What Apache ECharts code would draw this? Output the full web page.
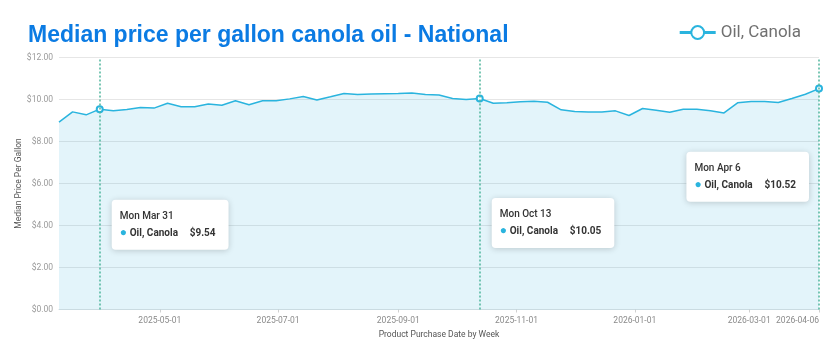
<!DOCTYPE html>
<html>
<head>
<meta charset="utf-8">
<script src="https://cdn.jsdelivr.net/npm/echarts@6/dist/echarts.min.js"></script>
<style>
html,body{margin:0;padding:0;background:#fff;}
#chart{width:826px;height:346px;}
</style>
</head>
<body>
<div id="chart"></div>
<script>
var weeks = ['2025-03-10','2025-03-17','2025-03-24','2025-03-31','2025-04-07','2025-04-14','2025-04-21','2025-04-28',
'2025-05-05','2025-05-12','2025-05-19','2025-05-26','2025-06-02','2025-06-09','2025-06-16','2025-06-23','2025-06-30',
'2025-07-07','2025-07-14','2025-07-21','2025-07-28','2025-08-04','2025-08-11','2025-08-18','2025-08-25',
'2025-09-01','2025-09-08','2025-09-15','2025-09-22','2025-09-29','2025-10-06','2025-10-13','2025-10-20','2025-10-27',
'2025-11-03','2025-11-10','2025-11-17','2025-11-24','2025-12-01','2025-12-08','2025-12-15','2025-12-22','2025-12-29',
'2026-01-05','2026-01-12','2026-01-19','2026-01-26','2026-02-02','2026-02-09','2026-02-16','2026-02-23',
'2026-03-02','2026-03-09','2026-03-16','2026-03-23','2026-03-30','2026-04-06'];
var canolaPrice = [8.92,9.41,9.27,9.54,9.47,9.52,9.62,9.59,9.82,9.65,
9.65,9.79,9.73,9.94,9.75,9.94,9.94,10.03,10.14,9.98,
10.13,10.29,10.24,10.26,10.27,10.28,10.31,10.24,10.21,10.05,
10.00,10.05,9.82,9.84,9.89,9.92,9.87,9.51,9.43,9.41,
9.41,9.46,9.24,9.57,9.49,9.39,9.54,9.54,9.46,9.36,
9.84,9.90,9.90,9.86,10.05,10.25,10.52];
var xTickLabels = ['2025-05-01','2025-07-01','2025-09-01','2025-11-01','2026-01-01','2026-03-01','2026-04-06'];
var yTicks = [0,2,4,6,8,10,12];
var calloutDates = ['2025-03-31','2025-10-13','2026-04-06'];
var calloutTitles = ['Mon Mar 31','Mon Oct 13','Mon Apr 6'];
var seriesName = 'Oil, Canola';

var LINE = '#2ab4de';
var chart = echarts.init(document.getElementById('chart'));

function fmtDate(v){
  var d = new Date(v);
  var m = d.getUTCMonth()+1, dd = d.getUTCDate();
  return d.getUTCFullYear()+'-'+(m<10?'0':'')+m+'-'+(dd<10?'0':'')+dd;
}
function ts(s){ return Date.parse(s+'T00:00:00Z'); }

var seriesData = weeks.map(function(w,i){
  var item = {value:[ts(w), canolaPrice[i]]};
  if (calloutDates.indexOf(w) >= 0) { item.symbol = 'emptyCircle'; item.symbolSize = 6; }
  return item;
});

var calloutYs = [4.03, 4.12, 6.32];
var markPts = calloutDates.map(function(d,k){
  var idx = weeks.indexOf(d);
  var last = k === calloutDates.length-1;
  return {
    coord:[ts(d), calloutYs[k]],
    label:{
      show:true,
      position: last ? 'left' : 'right',
      distance: last ? 10 : 12,
      formatter: '{t|'+calloutTitles[k]+'}\n{d|●}{n|'+seriesName+'}{v|$'+canolaPrice[idx].toFixed(2)+'}'
    }
  };
});

var option = {
  animation:false,
  backgroundColor:'#ffffff',
  textStyle:{fontFamily:'Roboto'},
  title:{
    text:'Median price per gallon canola oil - National',
    left:23, top:19,
    textStyle:{color:'#0b7be3', fontSize:23, fontWeight:'bold', fontFamily:'Liberation Sans'}
  },
  legend:{
    right:20, top:19,
    itemWidth:36, itemHeight:16, itemGap:8,
    textStyle:{color:'#707070', fontSize:17, fontFamily:'Roboto'},
    lineStyle:{width:3},
    itemStyle:{borderWidth:3},
    data:[{name:seriesName}]
  },
  grid:{left:59, right:7, top:57.5, bottom:36.5, containLabel:false, outerBoundsMode:'none'},
  xAxis:{
    type:'value',
    min: ts(weeks[0]), max: ts(weeks[weeks.length-1]),
    name:'Product Purchase Date by Week',
    nameLocation:'middle', nameGap:21, nameMoveOverlap:false,
    nameTextStyle:{color:'#555', fontSize:8.5},
    axisLine:{lineStyle:{color:'#d6dfe3'}},
    axisTick:{show:true, length:3, lineStyle:{color:'#d0d0d0'}, customValues: xTickLabels.map(ts)},
    axisLabel:{color:'#8a8a8a', fontSize:8.5, margin:7,
      customValues: xTickLabels.map(ts),
      formatter:function(v){return fmtDate(v);},
      showMaxLabel:true, hideOverlap:false,
      alignMaxLabel:'right'},
    splitLine:{show:false}
  },
  yAxis:{
    type:'value', min:yTicks[0], max:yTicks[yTicks.length-1], interval:2,
    name:'Median Price Per Gallon',
    nameLocation:'middle', nameGap:36, nameMoveOverlap:false,
    nameTextStyle:{color:'#555', fontSize:8.5},
    axisLine:{show:false}, axisTick:{show:false},
    axisLabel:{color:'#9a9a9a', fontSize:8.5, margin:6, formatter:function(v){return '$'+v.toFixed(2);}},
    splitLine:{lineStyle:{color:'#e6e6e6', width:1}}
  },
  series:[{
    name:seriesName,
    type:'line',
    data:seriesData,
    symbol:'emptyCircle', symbolSize:0, showSymbol:true, showAllSymbol:true,
    lineStyle:{color:LINE, width:1.5},
    itemStyle:{color:LINE, borderColor:LINE, borderWidth:1.5},
    areaStyle:{color:'rgba(42,172,216,0.19)'},
    markLine:{
      silent:true, symbol:['none','none'],
      label:{show:false},
      lineStyle:{type:[2,2], color:'#4fb59c', width:1.5, opacity:1},
      emphasis:{disabled:true},
      data: calloutDates.map(function(d){return {xAxis: ts(d)};})
    },
    markPoint:{
      symbol:'circle', symbolSize:0,
      label:{
        backgroundColor:'#ffffff', borderRadius:4,
        padding:[8,13,8,8],
        shadowBlur:6, shadowColor:'rgba(0,0,0,0.18)', shadowOffsetY:1,
        rich:{
          t:{fontSize:10, fontWeight:500, color:'#333', lineHeight:17, align:'left', fontFamily:'Roboto'},
          d:{fontSize:12, color:LINE, width:10, lineHeight:17, align:'left', fontFamily:'Roboto'},
          n:{fontSize:10, fontWeight:'bold', color:'#333', width:60, lineHeight:17, align:'left', fontFamily:'Roboto'},
          v:{fontSize:10, fontWeight:'bold', color:'#333', lineHeight:17, align:'left', fontFamily:'Roboto'}
        }
      },
      data: markPts
    }
  }]
};
chart.setOption(option);
</script>
</body>
</html>
